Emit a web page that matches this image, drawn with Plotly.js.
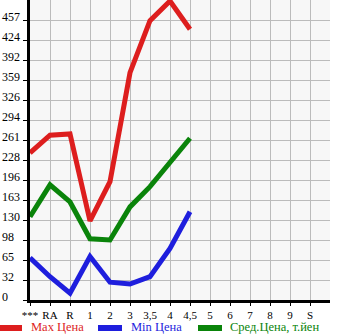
<!DOCTYPE html>
<html><head><meta charset="utf-8">
<script src="https://cdn.plot.ly/plotly-3.0.1.min.js"></script>
<style>html,body{margin:0;padding:0;background:#fff}#c{width:345px;height:335px}</style>
</head><body><div id="c"></div>
<script>
const categories = ["***","RA","R","1","2","3","3,5","4","4,5","5","6","7","8","9","S"];
const maxPrice = [240, 269, 271, 129, 193, 371, 456, 488, 442];
const minPrice = [69, 38, 11, 71, 29, 26, 38, 84, 144];
const avgPrice = [136, 188, 160, 100, 98, 152, 185, 224, 264];
const yTickVals = [0, 32.64, 65.29, 97.93, 130.57, 163.21, 195.86, 228.5, 261.14, 293.79, 326.43, 359.07, 391.71, 424.36, 457];
const yTickText = ["0","32","65","98","130","163","196","228","261","294","326","359","392","424","457"];
const seriesNames = ["Max Цена","Min Цена","Сред.Цена, т.йен"];
const colors = ["#dd1e1e","#1e1edd","#0a840a"];

const idx = categories.map((c,i)=>i);
const series = [maxPrice, minPrice, avgPrice];
const traces = series.map((s,k)=>({
  x: idx.slice(0, s.length), y: s, type:'scatter', mode:'lines',
  line:{color:colors[k], width:5}, name:seriesNames[k], showlegend:false, hoverinfo:'skip', cliponaxis:true
}));

const W = 300, L = 30, H = 300;
const legendX = [[0,22,30],[98,122,130],[198,222,229]];
const lineY = (H - 328)/H;
const textBottom = (H - 335)/H;
const shapes = [], annotations = [];
legendX.forEach((p,k)=>{
  shapes.push({type:'line', xref:'paper', yref:'paper', x0:(p[0]-L)/W, x1:(p[1]-L)/W, y0:lineY, y1:lineY, line:{color:colors[k], width:6}});
  annotations.push({xref:'paper', yref:'paper', x:(p[2]-L)/W, y:textBottom, xanchor:'left', yanchor:'bottom', showarrow:false, borderpad:0, text:seriesNames[k], font:{family:'Liberation Serif', size:12.5, color:colors[k]}});
});
yTickVals.forEach((v,i)=>{
  annotations.push({xref:'paper', yref:'y', x:-L/W, y:v, xanchor:'left', yanchor:'middle', yshift:3, showarrow:false,
    text:yTickText[i], font:{family:'Liberation Serif', size:12, color:'#000'}});
});

const layout = {
  width:345, height:335, margin:{l:30, r:15, t:0, b:35},
  paper_bgcolor:'#ffffff', plot_bgcolor:'#f7f7f7', showlegend:false,
  font:{family:'Liberation Serif', size:12, color:'#000'},
  xaxis:{range:[0,15], tickvals:idx, ticktext:categories, showgrid:true, gridcolor:'#bbbbbb', gridwidth:1,
    showline:true, linecolor:'#000', linewidth:3, ticks:'outside', ticklen:3, tickcolor:'#000', zeroline:false, fixedrange:true,
    ticklabelstandoff:0, tickfont:{family:'Liberation Serif', size:11, color:'#000'}},
  yaxis:{range:[0,489.64], tickvals:yTickVals, showticklabels:false, showgrid:true, gridcolor:'#bbbbbb', gridwidth:1,
    showline:true, linecolor:'#000', linewidth:3, ticks:'outside', ticklen:4, tickcolor:'#000', zeroline:false, fixedrange:true},
  shapes:shapes, annotations:annotations
};
Plotly.newPlot('c', traces, layout, {staticPlot:true, displayModeBar:false});
</script></body></html>
